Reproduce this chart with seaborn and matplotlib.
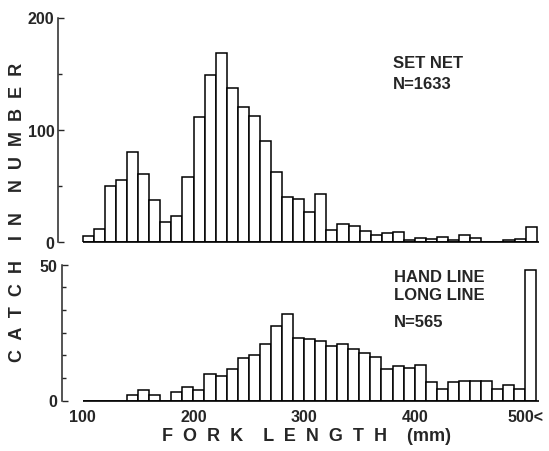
import numpy as np
import pandas as pd
import matplotlib
matplotlib.use("Agg")
import matplotlib.pyplot as plt
import seaborn as sns

# ---------------- Data ----------------
# left edge of each 10 mm fork-length class, last class is "500<"
bin_left = list(range(100, 510, 10))

set_net = [5, 12, 50, 55, 80, 61, 37, 18, 23, 58,
           111, 149, 168, 137, 120, 112, 90, 62, 40, 38,
           27, 43, 11, 16, 14, 10, 6, 8, 9, 2,
           3.5, 3, 4.5, 2, 6, 4, 0, 0, 1.5, 3,
           13]

hand_long_line = [0, 0, 0, 0, 2, 4, 2, 0, 3.3, 4.8,
                  3.8, 9.8, 8.9, 11.4, 15.6, 16.8, 20.9, 27.4, 31.7, 22.8,
                  22.6, 22, 20, 20.7, 19, 17.5, 16, 11.6, 12.7, 11.8,
                  13, 6.8, 4.4, 6.9, 7, 7, 7, 4.3, 5.8, 4.3,
                  48]

x_ticks = [100, 200, 300, 400, 500]
x_tick_labels = ["100", "200", "300", "400", "500<"]

df = pd.DataFrame({"bin": bin_left, "set_net": set_net, "hand_long": hand_long_line})
df["mid"] = df["bin"] + 5
edges = list(range(100, 520, 10))

# ---------------- Style ----------------
sns.set_style("ticks")
plt.rcParams["font.family"] = ["Liberation Sans", "DejaVu Sans"]
plt.rcParams["font.weight"] = "bold"
plt.rcParams["axes.linewidth"] = 1.1

W, H = 549, 452
fig = plt.figure(figsize=(W / 100, H / 100), dpi=100)
ax1 = fig.add_axes([58.5 / W, 209 / H, 481.5 / W, 224.5 / H])
ax2 = fig.add_axes([61.7 / W, 50.5 / H, 478 / W, 136 / H])

bar_kw = dict(bins=edges, color="white", edgecolor="black", linewidth=1.1, alpha=1)
sns.histplot(data=df, x="mid", weights="set_net", ax=ax1, **bar_kw)
sns.histplot(data=df, x="mid", weights="hand_long", ax=ax2, **bar_kw)

for ax, top in [(ax1, 200), (ax2, 50)]:
    ax.set_xlim(78 if ax is ax1 else 81, 513)
    ax.set_ylim(0, top)
    ax.hlines(0, 100, 512, color="black", lw=1.2, clip_on=False)
    sns.despine(ax=ax, top=True, right=True, bottom=True)
    ax.set_xlabel("")
    ax.set_ylabel("")
    ax.tick_params(axis="y", direction="in", length=4, width=1, labelsize=11.5, pad=3)
    ax.tick_params(axis="y", which="minor", direction="in", length=3, width=1)

ax1.set_yticks([0, 100, 200])
ax1.set_yticks([50, 150], minor=True)
ax1.set_xticks([])

ax2.set_yticks([0, 50])
ax2.set_yticks(list(np.linspace(0, 50, 7)[1:-1]), minor=True)
ax2.set_xticks(x_ticks)
ax2.set_xticklabels(x_tick_labels)
ax2.tick_params(axis="x", length=0, labelsize=11.5, pad=6)

# ---------------- Texts ----------------
ax1.text(0.695, 0.835, "SET NET\nN=1633", transform=ax1.transAxes,
         fontsize=12, va="top", ha="left", linespacing=1.5)
ax2.text(0.695, 0.97, "HAND LINE\nLONG LINE", transform=ax2.transAxes,
         fontsize=12, va="top", ha="left", linespacing=1.3)
ax2.text(0.695, 0.635, "N=565", transform=ax2.transAxes,
         fontsize=12, va="top", ha="left")

fig.text(18 / W, 0.531, "C  A  T  C  H    I  N    N  U  M  B  E  R",
         rotation=90, ha="center", va="center", fontsize=13)
fig.text(307 / W, (H - 437) / H, "F  O  R  K    L  E  N  G  T  H    (mm)",
         ha="center", va="center", fontsize=13)

fig.savefig("out.png", dpi=100)
